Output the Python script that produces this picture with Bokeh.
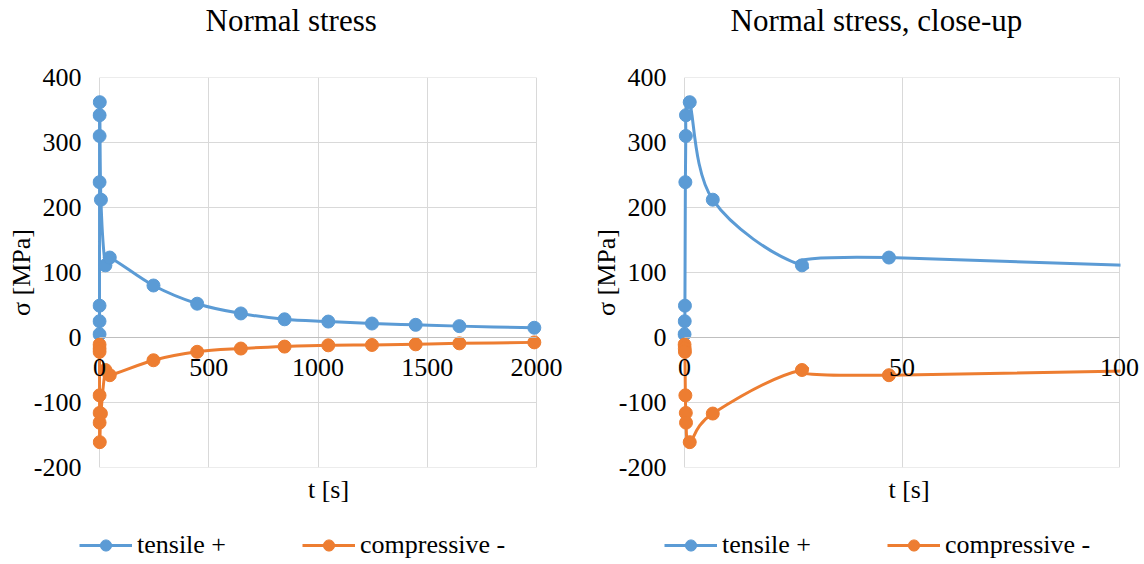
import numpy as np
from bokeh.plotting import figure
from bokeh.models import LinearAxis, FixedTicker, Legend, LegendItem, Range1d, Title
from bokeh.layouts import row, column
from bokeh.embed import file_html
from bokeh.resources import INLINE

# ---- data ----
t_s = [0, 0.05, 0.1, 0.2, 0.3, 0.35, 1.2, 6.5, 27, 47, 247, 447, 647, 847, 1047, 1247, 1447, 1647, 1990]
tensile = [5, 25, 49, 239, 310, 342, 362, 212, 111, 123, 80, 52, 37, 28, 24.5, 21.5, 19.5, 17.5, 15]
compressive = [-11, -17, -22, -89, -116, -131, -161, -117, -50, -58, -35, -22, -17, -14, -12, -11.5, -10.5, -9, -7.5]

series_names = ["tensile +", "compressive -"]
y_ticks = [-200, -100, 0, 100, 200, 300, 400]
x_ticks_full = [0, 500, 1000, 1500, 2000]
x_ticks_zoom = [0, 50, 100]

BLUE = "#5b9bd5"
ORANGE = "#ed7d31"
FONT = "Liberation Serif"
MAIN_H = 520
LEG_H = 43
FRAME_TOP = 76
FRAME_BOTTOM = 467


def bezier_cols(x, y):
    x = np.asarray(x, float)
    y = np.asarray(y, float)
    n = len(x)
    xp = np.concatenate([[x[0]], x, [x[-1]]])
    yp = np.concatenate([[y[0]], y, [y[-1]]])
    return dict(
        x0=xp[1:n], y0=yp[1:n], x1=xp[2:n + 1], y1=yp[2:n + 1],
        cx0=xp[1:n] + (xp[2:n + 1] - xp[0:n - 1]) / 6,
        cy0=yp[1:n] + (yp[2:n + 1] - yp[0:n - 1]) / 6,
        cx1=xp[2:n + 1] - (xp[3:n + 2] - xp[1:n]) / 6,
        cy1=yp[2:n + 1] - (yp[3:n + 2] - yp[1:n]) / 6,
    )


def make_chart(title_text, x_ticks, width, frame_left, zero_px, end_px, frame_right,
               title_offset, mask):
    x_end = x_ticks[-1]
    ppu = (end_px - zero_px) / x_end
    x_start = -(zero_px - frame_left) / ppu
    x_stop = x_end + (frame_right - end_px) / ppu
    p = figure(width=width, height=MAIN_H, title=None,
               x_range=Range1d(x_start, x_stop), y_range=Range1d(y_ticks[0], y_ticks[-1]),
               output_backend="svg", toolbar_location=None,
               min_border_left=frame_left, min_border_right=width - frame_right,
               min_border_top=FRAME_TOP, min_border_bottom=MAIN_H - FRAME_BOTTOM)
    p.outline_line_color = None
    p.background_fill_color = "white"

    # spacer title next to the frame, real title above it
    p.add_layout(Title(text=" ", text_font_size="10px", standoff=27), "above")
    p.add_layout(Title(text=title_text, text_font=FONT, text_font_size="31px",
                       text_font_style="normal", text_color="black", align="left",
                       offset=title_offset, standoff=0), "above")

    # grid
    p.xgrid.ticker = FixedTicker(ticks=x_ticks)
    p.xgrid.grid_line_color = "#d9d9d9"
    p.ygrid.visible = False
    p.segment(x0=[x_ticks[0]] * len(y_ticks), y0=y_ticks,
              x1=[x_ticks[-1]] * len(y_ticks), y1=y_ticks,
              line_color="#d9d9d9", line_width=1, level="underlay")

    # y axis
    ya = p.yaxis[0]
    ya.ticker = FixedTicker(ticks=y_ticks)
    ya.major_label_overrides = {v: str(v) for v in y_ticks}
    ya.axis_label = "σ [MPa]"
    ya.axis_label_text_font = FONT
    ya.axis_label_text_font_size = "26px"
    ya.axis_label_text_font_style = "normal"
    ya.axis_label_text_color = "black"
    ya.axis_label_standoff = -5
    ya.major_label_text_font = FONT
    ya.major_label_text_font_size = "26px"
    ya.major_label_text_font_style = "normal"
    ya.major_label_text_color = "black"
    ya.major_label_standoff = 11
    ya.axis_line_color = None
    ya.major_tick_line_color = None
    ya.minor_tick_line_color = None
    ya.major_tick_out = 0
    ya.major_tick_in = 0

    # curves and markers
    p.bezier(line_color=BLUE, line_width=3, line_cap="round", **bezier_cols(t_s, tensile))
    p.scatter(t_s, tensile, size=13, fill_color=BLUE, line_color=BLUE)
    p.bezier(line_color=ORANGE, line_width=3, line_cap="round", **bezier_cols(t_s, compressive))
    p.scatter(t_s, compressive, size=13, fill_color=ORANGE, line_color=ORANGE)

    if mask:
        # blank out the part of the frame to the right of the last tick
        p.quad(left=[x_end + 1.0 / ppu], right=[x_stop], bottom=[y_ticks[0]], top=[y_ticks[-1]],
               fill_color="white", line_color=None)

    # x axis drawn at y = 0
    xa = p.xaxis[0]
    xa.fixed_location = 0
    xa.ticker = FixedTicker(ticks=x_ticks)
    xa.bounds = (x_ticks[0], x_ticks[-1])
    xa.axis_line_color = "#bfbfbf"
    xa.axis_line_width = 1
    xa.major_tick_line_color = None
    xa.minor_tick_line_color = None
    xa.major_tick_out = 0
    xa.major_tick_in = 0
    xa.major_label_text_font = FONT
    xa.major_label_text_font_size = "26px"
    xa.major_label_text_font_style = "normal"
    xa.major_label_text_color = "black"
    xa.major_label_standoff = 21

    # x axis title below the frame
    la = LinearAxis(ticker=FixedTicker(ticks=[]), axis_label="t [s]",
                    axis_line_color=None, major_tick_line_color=None,
                    minor_tick_line_color=None, major_tick_out=0, major_tick_in=0,
                    major_label_standoff=0, axis_label_standoff=7,
                    axis_label_text_font=FONT, axis_label_text_font_size="26px",
                    axis_label_text_font_style="normal", axis_label_text_color="black")
    p.add_layout(la, "below")
    return p


def make_legend(width, left_px):
    # the series are outside this strip's ranges, only their legend samples show
    lf = figure(width=width, height=LEG_H, x_range=Range1d(0, 1), y_range=Range1d(0, 1),
                x_axis_type=None, y_axis_type=None, output_backend="svg",
                toolbar_location=None, min_border=0)
    lf.outline_line_color = None
    lf.grid.visible = False
    items = []
    for name, vals, col in zip(series_names, [tensile, compressive], [BLUE, ORANGE]):
        r1 = lf.line(x=t_s, y=vals, line_color=col, line_width=3)
        r2 = lf.scatter(x=t_s, y=vals, size=13, fill_color=col, line_color=col)
        items.append(LegendItem(label=name, renderers=[r1, r2]))
    leg = Legend(items=items, orientation="horizontal", location=(left_px, 3),
                 glyph_width=53, glyph_height=28, label_standoff=5, spacing=76,
                 padding=0, margin=0, border_line_color=None, background_fill_alpha=0,
                 label_text_font=FONT, label_text_font_size="26px",
                 label_text_color="black")
    lf.add_layout(leg)
    return lf


p1 = make_chart("Normal stress", x_ticks_full, 584, 92, 99, 536, 564, 113, False)
p2 = make_chart("Normal stress, close-up", x_ticks_zoom, 556, 93, 100, 535, 556, 53, True)
l1 = make_legend(584, 79)
l2 = make_legend(556, 80)
layout = column(row(p1, p2, spacing=0), row(l1, l2, spacing=0), spacing=0)

open("out.html", "w").write(file_html(layout, INLINE))
